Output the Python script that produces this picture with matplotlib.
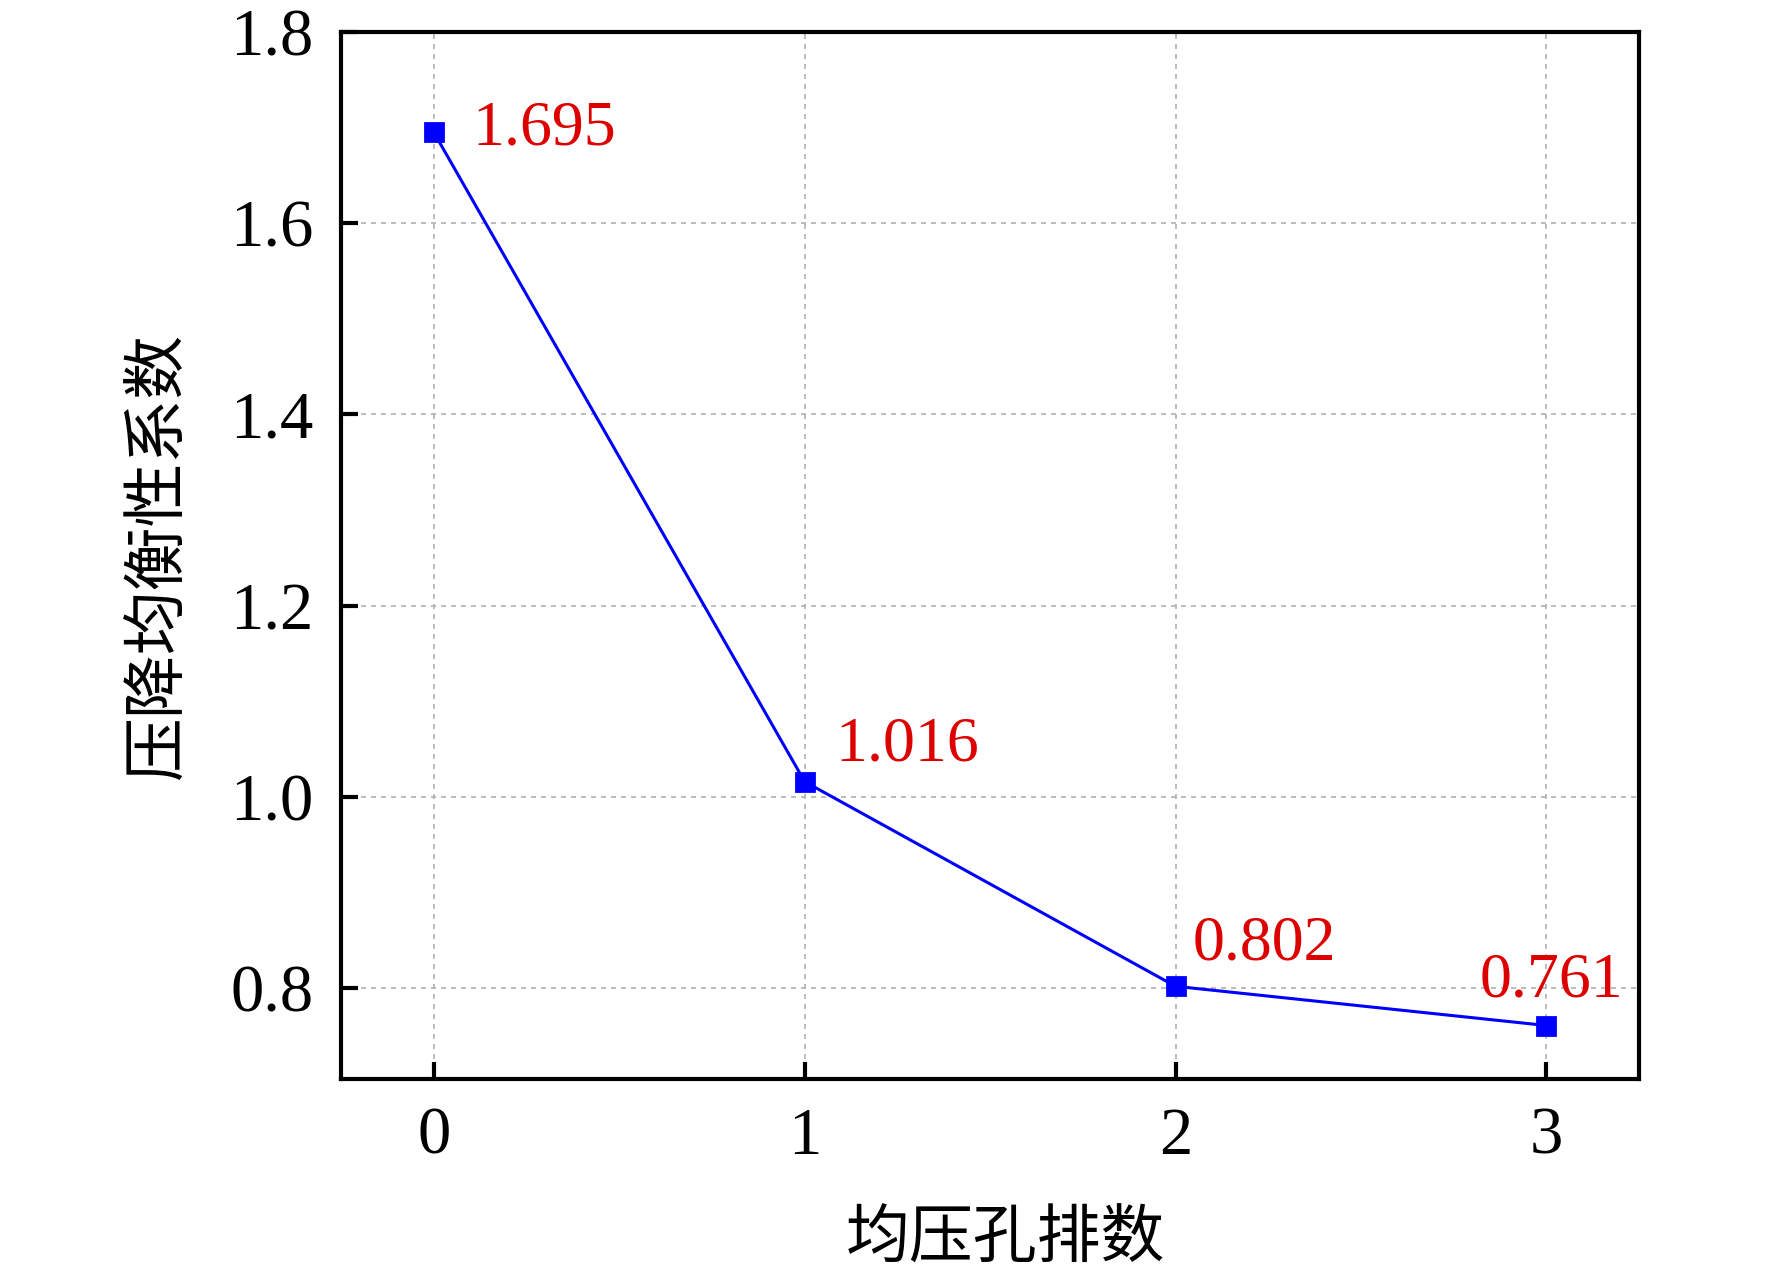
import matplotlib
matplotlib.use("Agg")
import matplotlib.pyplot as plt

rows = [0, 1, 2, 3]
coef = [1.695, 1.016, 0.802, 0.761]
labels = ["1.695", "1.016", "0.802", "0.761"]
xticks = [0, 1, 2, 3]
yticks = [0.8, 1.0, 1.2, 1.4, 1.6, 1.8]
xlabel = "均压孔排数"
ylabel = "压降均衡性系数"

plt.rcParams['font.family'] = ['Liberation Serif', 'Noto Sans CJK SC']
plt.rcParams['mathtext.fontset'] = 'stix'

fig = plt.figure(figsize=(8.86, 6.385), dpi=200)
ax = fig.add_axes([0.1925, 0.155, 0.925 - 0.1925, 0.975 - 0.155])

ax.plot(rows, coef, color='#0000ff', lw=1.1, marker='s', ms=6.8, mfc='#0000ff', mec='#0000ff', zorder=3)

offsets = [(14, 1, 'left'), (11, 13, 'left'), (6, 15, 'left'), (2, 16, 'center')]
for x, y, t, (dx, dy, ha) in zip(rows, coef, labels, offsets):
    ax.annotate(t, (x, y), xytext=(dx, dy), textcoords='offset points', ha=ha, va='center',
                color='#dd0000', fontsize=23, family='Liberation Serif')

ax.set_xlim(-0.25, 3.25)
ax.set_ylim(0.705, 1.8)
ax.set_xticks(xticks)
ax.set_yticks(yticks)
ax.set_yticklabels([f"{v:.1f}" for v in yticks])
ax.grid(True, color='#b0b0b0', linestyle=(0, (3, 3)), lw=0.6)
ax.set_axisbelow(True)
for s in ax.spines.values():
    s.set_linewidth(1.5)
ax.tick_params(direction='in', length=6, width=1.5, labelsize=24, pad=10, top=False, right=False)
ax.set_xlabel(xlabel, fontsize=23, family=['Noto Sans CJK SC'])
ax.set_ylabel(ylabel, fontsize=23, family=['Noto Sans CJK SC'])
ax.xaxis.set_label_coords(0.512, -0.121)
ax.yaxis.set_label_coords(-0.115, 0.5)

fig.savefig("out.png", dpi=200)
